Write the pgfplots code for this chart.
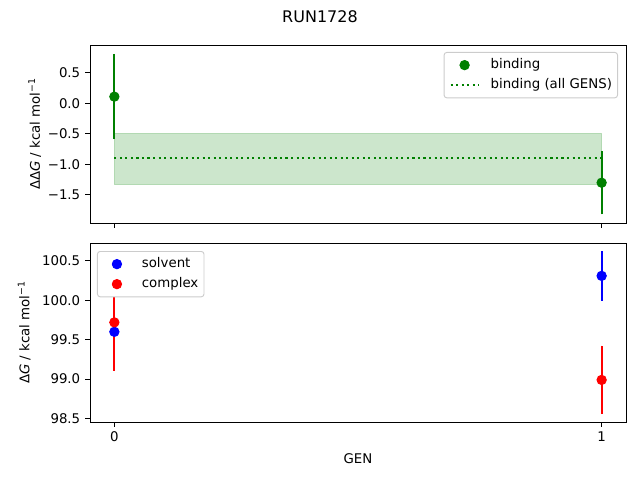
\documentclass[border=0pt]{standalone}
\usepackage{pgfplots}
\pgfplotsset{compat=1.18}
\usepackage{fontspec}
\setmainfont{DejaVu Sans}
\definecolor{mgreen}{HTML}{008000}
\definecolor{mblue}{HTML}{0000FF}
\definecolor{mred}{HTML}{FF0000}
\definecolor{lgrid}{HTML}{CCCCCC}
\pgfplotsset{
 mystyle/.style={
  scale only axis, width=402pt, anchor=south west,
  xmin=-0.05, xmax=1.05, xtick={0,1},
  axis line style={line width=0.7pt},
  every axis/.append style={line width=0.7pt},
  tick style={black, line width=0.7pt},
  tick align=outside, major tick length=3.65pt,
  xtick pos=bottom, ytick pos=left,
  tick label style={font=\fontsize{10}{12}\selectfont},
  label style={font=\fontsize{10}{12}\selectfont},
  /pgf/number format/assume math mode=true,
  legend style={font=\fontsize{10}{12}\selectfont, draw=lgrid, line width=0.7pt,
    rounded corners=2pt,
    inner xsep=4.2pt, inner ysep=4.5pt, row sep=5pt, column sep=8.3pt,
    nodes={inner sep=0pt, text height=7.5pt, text depth=2.5pt}},
  legend cell align=left,
 },
 mk/.style={only marks, mark=*, mark size=3.5pt, draw=#1, fill=#1, color=#1,
   legend image code/.code={\path[draw=none, fill=none] (0pt,0pt) -- (20.8pt,0pt);
     \fill[#1] (10.4pt,0pt) circle (3.5pt);}},
 dotleg/.style={mgreen, line width=1.56pt, dash pattern=on 1.56pt off 2.58pt,
   legend image code/.code={\draw[##1] (0pt,0pt) -- (20.8pt,0pt);}},
}
\pgfplotstableread{
x y e
0 0.11 0.70
1 -1.30 0.52
}\binding
\pgfplotstableread{
x y e
0 99.60 0.30
1 100.31 0.315
}\solvent
\pgfplotstableread{
x y e
0 99.72 0.62
1 98.99 0.435
}\complex
\begin{document}
\begin{tikzpicture}
\useasboundingbox (0,0) rectangle (480pt,360pt);
\node[font=\fontsize{12}{14}\selectfont] at (240pt,347.25pt) {RUN1728};
\begin{axis}[mystyle, at={(67.5pt,192.75pt)}, height=133.5pt,
  ymin=-1.96, ymax=0.956,
  ytick={-1.5,-1,-0.5,0,0.5}, yticklabels={−1.5,−1.0,−0.5,0.0,0.5},
  xticklabels={},
  ylabel={ΔΔ\textit{G} / kcal mol\textsuperscript{−1}},
  ylabel style={yshift=-2pt},
  legend style={at={(1,1)}, anchor=north east, xshift=-6pt, yshift=-5.25pt}]
\addlegendimage{mk=mgreen}
\addlegendentry{binding}
\addlegendimage{dotleg}
\addlegendentry{binding (all GENS)}
\addplot[forget plot, fill=mgreen, fill opacity=0.2, draw=mgreen, draw opacity=0.2]
  coordinates {(0,-0.49) (1,-0.49) (1,-1.33) (0,-1.33) (0,-0.49)};
\addplot[forget plot, mgreen, line width=1.56pt, dash pattern=on 1.56pt off 2.58pt]
  coordinates {(0,-0.90) (1,-0.90)};
\addplot[forget plot, mk=mgreen,
  error bars/.cd, y dir=both, y explicit, error mark=none,
  error bar style={line width=1.56pt, mgreen}]
  table[x=x, y=y, y error=e] {\binding};
\end{axis}
\begin{axis}[mystyle, at={(67.5pt,43.5pt)}, height=134.25pt,
  ymin=98.456, ymax=100.727,
  ytick={98.5,99,99.5,100,100.5},
  yticklabel style={/pgf/number format/.cd, fixed, fixed zerofill, precision=1},
  xticklabels={0,1},
  xlabel={GEN},
  xlabel style={yshift=-1.5pt},
  ylabel={Δ\textit{G} / kcal mol\textsuperscript{−1}},
  ylabel style={yshift=1.5pt},
  legend style={at={(0,1)}, anchor=north west, xshift=5.25pt, yshift=-6pt}]
\addlegendimage{mk=mblue}
\addlegendentry{solvent}
\addlegendimage{mk=mred}
\addlegendentry{complex}
\addplot[forget plot, mk=mblue,
  error bars/.cd, y dir=both, y explicit, error mark=none,
  error bar style={line width=1.56pt, mblue}]
  table[x=x, y=y, y error=e] {\solvent};
\addplot[forget plot, mk=mred,
  error bars/.cd, y dir=both, y explicit, error mark=none,
  error bar style={line width=1.56pt, mred}]
  table[x=x, y=y, y error=e] {\complex};
\end{axis}
\end{tikzpicture}
\end{document}
